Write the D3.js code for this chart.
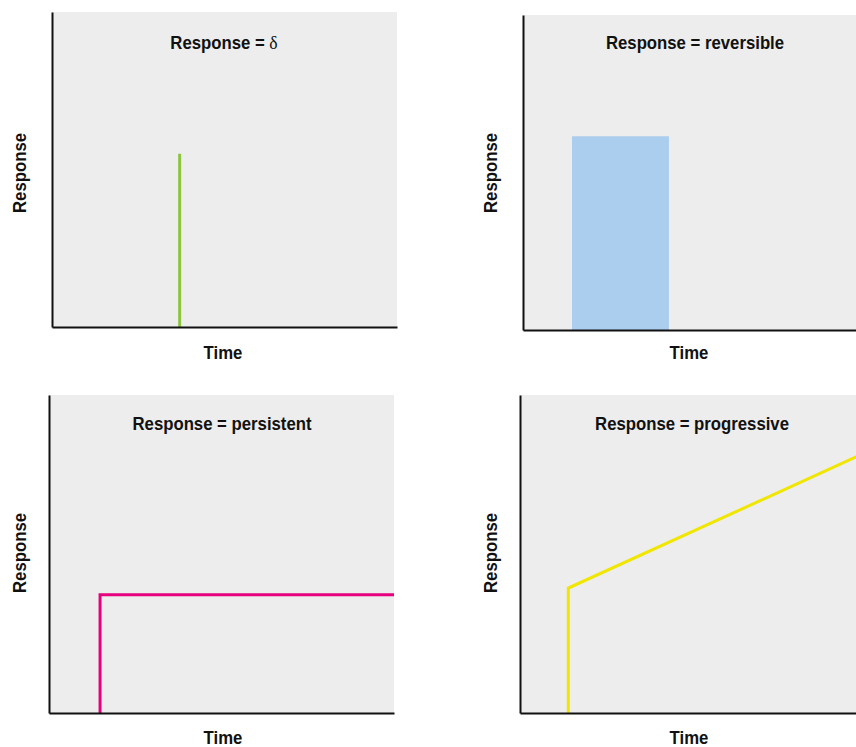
<!DOCTYPE html>
<html>
<head>
<meta charset="utf-8">
<script src="https://cdn.jsdelivr.net/npm/d3@7"></script>
<style>
  html, body { margin: 0; padding: 0; background: #ffffff; }
  svg { display: block; }
  text { font-family: "Liberation Sans Narrow", "Arial Narrow", "Liberation Sans", Arial, sans-serif; font-weight: bold; fill: #111; }
  tspan.greek { font-family: "Liberation Serif", "Times New Roman", serif; font-weight: normal; }
</style>
</head>
<body>
<svg id="chart" width="856" height="747"></svg>
<script>
// ---- data ----
const panelTitles = ["Response = \u03b4", "Response = reversible", "Response = persistent", "Response = progressive"];
const xLabel = "Time";
const yLabel = "Response";
const xDomain = [0, 10];
const yDomain = [0, 10];
// delta: single spike
const deltaSpike = [{ t: 3.7, r: 5.5 }];
// reversible: block response
const reversibleBlock = [{ t0: 1.42, t1: 4.23, r: 6.15 }];
// persistent: step that stays
const persistentLine = [[1.48, 0], [1.48, 3.72], [10, 3.72]];
// progressive: step then steady increase
const progressiveLine = [[1.4, 0], [1.4, 3.93], [10, 8.18]];

// ---- layout ----
const panels = [
  { x: 52,  y: 12,  w: 345, h: 315, titleX: 224, titleY: 49,  timeX: 223, timeY: 359, ylabX: 26,  ylabY: 173 },
  { x: 523, y: 15,  w: 345, h: 315, titleX: 695, titleY: 49,  timeX: 689, timeY: 359, ylabX: 497, ylabY: 173 },
  { x: 49,  y: 395, w: 345, h: 318, titleX: 222, titleY: 430, timeX: 223, timeY: 744, ylabX: 26,  ylabY: 553 },
  { x: 520, y: 395, w: 345, h: 318, titleX: 692, titleY: 430, timeX: 689, timeY: 744, ylabX: 497, ylabY: 553 }
];
const colors = { delta: "#8cc43f", reversible: "#abcdee", persistent: "#e6007e", progressive: "#f0e600" };
const fontSize = 18, squeeze = 0.93;

const svg = d3.select("#chart");

function label(x, y, txt, rot) {
  const t = svg.append("text")
    .attr("transform", `translate(${x},${y})` + (rot ? " rotate(-90)" : "") + ` scale(${squeeze},1)`)
    .attr("text-anchor", "middle")
    .style("font-size", fontSize + "px");
  // render Greek letters in a serif face, as in the reference
  txt.split(/([\u0370-\u03ff]+)/).forEach(part => {
    if (!part) return;
    const s = t.append("tspan").text(part);
    if (/[\u0370-\u03ff]/.test(part)) s.attr("class", "greek").style("font-size", (fontSize + 1) + "px");
  });
}

panels.forEach((p, i) => {
  const g = svg.append("g").attr("transform", `translate(${p.x},${p.y})`);
  const x = d3.scaleLinear().domain(xDomain).range([0, p.w]);
  const y = d3.scaleLinear().domain(yDomain).range([p.h, 0]);

  g.append("rect").attr("x", 0).attr("y", 0).attr("width", p.w).attr("height", p.h).attr("fill", "#ededed");

  if (i === 0) {
    g.selectAll("line.spike").data(deltaSpike).enter().append("line")
      .attr("x1", d => x(d.t)).attr("x2", d => x(d.t))
      .attr("y1", y(0)).attr("y2", d => y(d.r))
      .attr("stroke", colors.delta).attr("stroke-width", 3);
  } else if (i === 1) {
    g.selectAll("rect.block").data(reversibleBlock).enter().append("rect")
      .attr("x", d => x(d.t0)).attr("width", d => x(d.t1) - x(d.t0))
      .attr("y", d => y(d.r)).attr("height", d => y(0) - y(d.r))
      .attr("fill", colors.reversible);
  } else {
    const data = i === 2 ? persistentLine : progressiveLine;
    const col = i === 2 ? colors.persistent : colors.progressive;
    const line = d3.line().x(d => x(d[0])).y(d => y(d[1]));
    g.append("path").datum(data).attr("d", line)
      .attr("fill", "none").attr("stroke", col).attr("stroke-width", 3)
      .attr("stroke-linejoin", "miter");
  }

  // axes (left and bottom lines only)
  const xAxis = d3.axisBottom(x).tickValues([]).tickSizeOuter(0);
  const yAxis = d3.axisLeft(y).tickValues([]).tickSizeOuter(0);
  g.append("g").attr("transform", `translate(0,${p.h})`).call(xAxis)
    .select(".domain").attr("stroke", "#111").attr("stroke-width", 2);
  g.append("g").call(yAxis)
    .select(".domain").attr("stroke", "#111").attr("stroke-width", 2);

  label(p.titleX, p.titleY, panelTitles[i], false);
  label(p.timeX, p.timeY, xLabel, false);
  label(p.ylabX, p.ylabY, yLabel, true);
});
</script>
</body>
</html>
